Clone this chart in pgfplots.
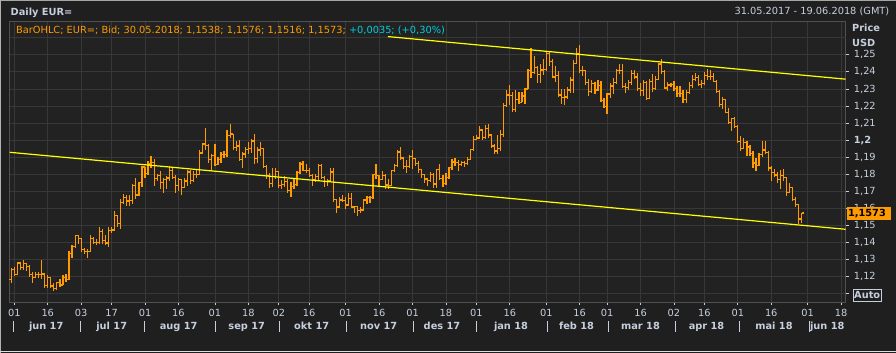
\documentclass[border=0pt]{standalone}
\usepackage{pgfplots}
\pgfplotsset{compat=1.18}
\usepackage{pgfplotstable}
\usepackage{fontspec}
\setmainfont{DejaVu Sans}
\definecolor{panel}{HTML}{1F1F1F}
\definecolor{plotbg}{HTML}{222222}
\definecolor{gridc}{HTML}{383838}
\definecolor{framec}{HTML}{505050}
\definecolor{labc}{HTML}{C5CFDD}
\definecolor{barc}{HTML}{FF9A00}
\definecolor{cyanc}{HTML}{00CFE0}
\definecolor{trendc}{HTML}{FFFF00}

\pgfdeclareplotmark{openTick}{\pgfpathmoveto{\pgfpointorigin}\pgfpathlineto{\pgfpoint{-\pgfplotmarksize}{0pt}}\pgfusepathqstroke}
\pgfdeclareplotmark{closeTick}{\pgfpathmoveto{\pgfpointorigin}\pgfpathlineto{\pgfpoint{\pgfplotmarksize}{0pt}}\pgfusepathqstroke}

\pgfplotstableread{
i o h l c
-1 1.1185 1.1251 1.1165 1.1244
0 1.1244 1.1255 1.1206 1.1214
1 1.1214 1.1285 1.1210 1.1280
2 1.1280 1.1285 1.1242 1.1254
3 1.1254 1.1296 1.1242 1.1278
4 1.1278 1.1283 1.1235 1.1258
5 1.1258 1.1269 1.1196 1.1213
6 1.1213 1.1230 1.1166 1.1196
7 1.1196 1.1230 1.1190 1.1211
8 1.1211 1.1225 1.1191 1.1213
9 1.1213 1.1296 1.1189 1.1216
10 1.1216 1.1218 1.1131 1.1150
11 1.1150 1.1210 1.1134 1.1197
12 1.1197 1.1200 1.1135 1.1146
13 1.1146 1.1165 1.1119 1.1131
14 1.1131 1.1171 1.1125 1.1167
15 1.1167 1.1184 1.1140 1.1152
16 1.1152 1.1211 1.1150 1.1195
17 1.1195 1.1213 1.1170 1.1183
18 1.1183 1.1350 1.1180 1.1336
19 1.1336 1.1387 1.1312 1.1375
20 1.1375 1.1446 1.1370 1.1442
21 1.1442 1.1446 1.1392 1.1426
22 1.1426 1.1428 1.1347 1.1359
23 1.1359 1.1370 1.1335 1.1346
24 1.1346 1.1364 1.1312 1.1350
25 1.1350 1.1445 1.1345 1.1423
26 1.1423 1.1434 1.1391 1.1401
27 1.1401 1.1422 1.1384 1.1400
28 1.1400 1.1490 1.1389 1.1465
29 1.1465 1.1480 1.1390 1.1414
30 1.1414 1.1445 1.1387 1.1397
31 1.1397 1.1490 1.1374 1.1469
32 1.1469 1.1490 1.1454 1.1474
33 1.1474 1.1583 1.1472 1.1557
34 1.1557 1.1563 1.1494 1.1513
35 1.1513 1.1656 1.1478 1.1633
36 1.1633 1.1684 1.1628 1.1666
37 1.1666 1.1678 1.1613 1.1643
38 1.1643 1.1676 1.1612 1.1648
39 1.1648 1.1743 1.1627 1.1733
40 1.1733 1.1777 1.1658 1.1679
41 1.1679 1.1753 1.1673 1.1750
42 1.1750 1.1847 1.1727 1.1843
43 1.1843 1.1845 1.1780 1.1803
44 1.1803 1.1880 1.1795 1.1860
45 1.1860 1.1910 1.1837 1.1870
46 1.1870 1.1890 1.1729 1.1774
47 1.1774 1.1799 1.1762 1.1792
48 1.1792 1.1822 1.1713 1.1754
49 1.1754 1.1777 1.1689 1.1769
50 1.1769 1.1790 1.1711 1.1778
51 1.1778 1.1846 1.1762 1.1822
52 1.1822 1.1834 1.1771 1.1779
53 1.1779 1.1795 1.1688 1.1734
54 1.1734 1.1779 1.1700 1.1770
55 1.1770 1.1773 1.1681 1.1723
56 1.1723 1.1779 1.1719 1.1761
57 1.1761 1.1823 1.1732 1.1814
58 1.1814 1.1826 1.1745 1.1763
59 1.1763 1.1819 1.1753 1.1800
60 1.1800 1.1832 1.1780 1.1798
61 1.1798 1.1940 1.1793 1.1925
62 1.1925 1.1984 1.1923 1.1977
63 1.1977 1.2070 1.1940 1.1967
64 1.1967 1.1980 1.1869 1.1887
65 1.1887 1.1918 1.1822 1.1909
66 1.1909 1.1980 1.1850 1.1857
67 1.1857 1.1904 1.1857 1.1888
68 1.1888 1.1928 1.1865 1.1915
69 1.1915 1.1938 1.1895 1.1918
70 1.1918 1.2060 1.1903 1.2025
71 1.2025 1.2092 1.2014 1.2036
72 1.2036 1.2037 1.1945 1.1955
73 1.1955 1.1995 1.1934 1.1966
74 1.1966 1.2002 1.1880 1.1886
75 1.1886 1.1929 1.1838 1.1919
76 1.1919 1.1962 1.1893 1.1944
77 1.1944 1.1987 1.1921 1.1952
78 1.1952 1.2007 1.1927 1.1995
79 1.1995 1.2035 1.1860 1.1891
80 1.1891 1.1960 1.1868 1.1942
81 1.1942 1.1987 1.1906 1.1949
82 1.1949 1.1952 1.1836 1.1847
83 1.1847 1.1856 1.1771 1.1793
84 1.1793 1.1807 1.1718 1.1746
85 1.1746 1.1834 1.1725 1.1785
86 1.1785 1.1834 1.1770 1.1815
87 1.1815 1.1818 1.1717 1.1733
88 1.1733 1.1766 1.1713 1.1740
89 1.1740 1.1792 1.1723 1.1760
90 1.1760 1.1775 1.1689 1.1706
91 1.1706 1.1752 1.1669 1.1730
92 1.1730 1.1780 1.1715 1.1739
93 1.1739 1.1820 1.1734 1.1812
94 1.1812 1.1870 1.1804 1.1860
95 1.1860 1.1880 1.1818 1.1823
96 1.1823 1.1860 1.1805 1.1823
97 1.1823 1.1836 1.1782 1.1794
98 1.1794 1.1799 1.1730 1.1766
99 1.1766 1.1802 1.1752 1.1787
100 1.1787 1.1861 1.1769 1.1853
101 1.1853 1.1860 1.1770 1.1783
102 1.1783 1.1789 1.1727 1.1757
103 1.1757 1.1773 1.1730 1.1762
104 1.1762 1.1834 1.1752 1.1814
105 1.1814 1.1838 1.1637 1.1654
106 1.1654 1.1655 1.1574 1.1608
107 1.1608 1.1669 1.1601 1.1650
108 1.1650 1.1680 1.1635 1.1646
109 1.1646 1.1669 1.1598 1.1620
110 1.1620 1.1688 1.1614 1.1658
111 1.1658 1.1688 1.1603 1.1608
112 1.1608 1.1617 1.1576 1.1609
113 1.1609 1.1616 1.1554 1.1587
114 1.1587 1.1608 1.1575 1.1591
115 1.1591 1.1658 1.1584 1.1650
116 1.1650 1.1675 1.1627 1.1664
117 1.1664 1.1670 1.1630 1.1663
118 1.1663 1.1800 1.1655 1.1797
119 1.1797 1.1862 1.1773 1.1793
120 1.1793 1.1797 1.1727 1.1771
121 1.1771 1.1822 1.1767 1.1795
122 1.1795 1.1803 1.1715 1.1737
123 1.1737 1.1770 1.1712 1.1735
124 1.1735 1.1828 1.1730 1.1822
125 1.1822 1.1859 1.1812 1.1852
126 1.1852 1.1940 1.1844 1.1931
127 1.1931 1.1960 1.1886 1.1896
128 1.1896 1.1902 1.1830 1.1844
129 1.1844 1.1881 1.1810 1.1845
130 1.1845 1.1915 1.1835 1.1904
131 1.1904 1.1940 1.1830 1.1893
132 1.1893 1.1896 1.1846 1.1865
133 1.1865 1.1880 1.1810 1.1826
134 1.1826 1.1833 1.1780 1.1797
135 1.1797 1.1804 1.1751 1.1772
136 1.1772 1.1780 1.1729 1.1765
137 1.1765 1.1813 1.1755 1.1800
138 1.1800 1.1805 1.1717 1.1743
139 1.1743 1.1830 1.1718 1.1828
140 1.1828 1.1863 1.1765 1.1775
141 1.1775 1.1796 1.1727 1.1748
142 1.1748 1.1805 1.1740 1.1783
143 1.1783 1.1845 1.1770 1.1840
144 1.1840 1.1888 1.1823 1.1872
145 1.1872 1.1896 1.1846 1.1871
146 1.1871 1.1881 1.1819 1.1859
147 1.1859 1.1875 1.1850 1.1868
148 1.1868 1.1875 1.1842 1.1863
149 1.1863 1.1900 1.1855 1.1889
150 1.1889 1.1946 1.1886 1.1943
151 1.1943 1.2023 1.1937 1.2005
152 1.2005 1.2029 1.1998 1.2013
153 1.2013 1.2081 1.2005 1.2059
154 1.2059 1.2066 1.1999 1.2014
155 1.2014 1.2089 1.2006 1.2068
156 1.2068 1.2093 1.2013 1.2030
157 1.2030 1.2036 1.1953 1.1966
158 1.1966 1.1978 1.1916 1.1937
159 1.1937 1.2028 1.1917 1.1951
160 1.1951 1.2058 1.1939 1.2034
161 1.2034 1.2219 1.2021 1.2201
162 1.2201 1.2296 1.2197 1.2265
163 1.2265 1.2323 1.2208 1.2263
164 1.2263 1.2280 1.2164 1.2178
165 1.2178 1.2296 1.2166 1.2237
166 1.2237 1.2284 1.2211 1.2221
167 1.2221 1.2282 1.2221 1.2259
168 1.2259 1.2308 1.2212 1.2300
169 1.2300 1.2414 1.2297 1.2408
170 1.2408 1.2537 1.2366 1.2396
171 1.2396 1.2494 1.2390 1.2425
172 1.2425 1.2437 1.2336 1.2383
173 1.2383 1.2449 1.2337 1.2411
174 1.2411 1.2478 1.2381 1.2413
175 1.2413 1.2523 1.2407 1.2508
176 1.2508 1.2518 1.2433 1.2461
177 1.2461 1.2476 1.2367 1.2370
178 1.2370 1.2436 1.2340 1.2378
179 1.2378 1.2404 1.2255 1.2265
180 1.2265 1.2298 1.2209 1.2250
181 1.2250 1.2297 1.2206 1.2253
182 1.2253 1.2311 1.2243 1.2294
183 1.2294 1.2371 1.2278 1.2352
184 1.2352 1.2470 1.2275 1.2450
185 1.2450 1.2537 1.2446 1.2508
186 1.2508 1.2556 1.2396 1.2408
187 1.2408 1.2435 1.2373 1.2406
188 1.2406 1.2411 1.2322 1.2337
189 1.2337 1.2360 1.2260 1.2284
190 1.2284 1.2353 1.2278 1.2330
191 1.2330 1.2343 1.2272 1.2294
192 1.2294 1.2354 1.2289 1.2319
193 1.2319 1.2346 1.2227 1.2232
194 1.2232 1.2245 1.2186 1.2195
195 1.2195 1.2274 1.2155 1.2270
196 1.2270 1.2337 1.2245 1.2317
197 1.2317 1.2365 1.2269 1.2336
198 1.2336 1.2415 1.2329 1.2408
199 1.2408 1.2446 1.2385 1.2409
200 1.2409 1.2446 1.2310 1.2313
201 1.2313 1.2335 1.2274 1.2307
202 1.2307 1.2350 1.2296 1.2336
203 1.2336 1.2409 1.2321 1.2390
204 1.2390 1.2412 1.2360 1.2370
205 1.2370 1.2393 1.2290 1.2303
206 1.2303 1.2336 1.2260 1.2290
207 1.2290 1.2355 1.2261 1.2338
208 1.2338 1.2347 1.2239 1.2243
209 1.2243 1.2356 1.2240 1.2342
210 1.2342 1.2388 1.2282 1.2301
211 1.2301 1.2375 1.2294 1.2353
212 1.2353 1.2454 1.2352 1.2446
213 1.2446 1.2476 1.2390 1.2404
214 1.2404 1.2410 1.2297 1.2305
215 1.2305 1.2340 1.2286 1.2323
216 1.2323 1.2335 1.2310 1.2324
217 1.2324 1.2347 1.2290 1.2302
218 1.2302 1.2320 1.2255 1.2271
219 1.2271 1.2315 1.2255 1.2275
220 1.2275 1.2292 1.2218 1.2240
221 1.2240 1.2293 1.2215 1.2280
222 1.2280 1.2340 1.2269 1.2319
223 1.2319 1.2379 1.2305 1.2357
224 1.2357 1.2396 1.2346 1.2368
225 1.2368 1.2381 1.2315 1.2327
226 1.2327 1.2351 1.2305 1.2330
227 1.2330 1.2397 1.2326 1.2381
228 1.2381 1.2414 1.2353 1.2373
229 1.2373 1.2413 1.2352 1.2375
230 1.2375 1.2396 1.2339 1.2345
231 1.2345 1.2353 1.2275 1.2285
232 1.2285 1.2294 1.2196 1.2211
233 1.2211 1.2254 1.2184 1.2236
234 1.2236 1.2239 1.2162 1.2164
235 1.2164 1.2191 1.2096 1.2103
236 1.2103 1.2132 1.2055 1.2129
237 1.2129 1.2137 1.2072 1.2078
238 1.2078 1.2091 1.1982 1.1991
239 1.1991 1.2022 1.1938 1.1952
240 1.1952 1.2010 1.1946 1.1988
241 1.1988 1.1996 1.1910 1.1960
242 1.1960 1.1969 1.1910 1.1923
243 1.1923 1.1939 1.1838 1.1866
244 1.1866 1.1895 1.1822 1.1850
245 1.1850 1.1926 1.1847 1.1917
246 1.1917 1.1997 1.1904 1.1942
247 1.1942 1.1995 1.1916 1.1926
248 1.1926 1.1937 1.1820 1.1837
249 1.1837 1.1851 1.1763 1.1809
250 1.1809 1.1829 1.1786 1.1796
251 1.1796 1.1811 1.1750 1.1768
252 1.1768 1.1828 1.1716 1.1793
253 1.1793 1.1829 1.1763 1.1780
254 1.1780 1.1787 1.1675 1.1695
255 1.1695 1.1750 1.1688 1.1721
256 1.1721 1.1726 1.1645 1.1653
257 1.1653 1.1665 1.1610 1.1624
258 1.1624 1.1627 1.1510 1.1538
259 1.1538 1.1576 1.1516 1.1573
}\ohlc

\begin{document}
\begin{tikzpicture}[x=1pt,y=1pt,font=\fontsize{9.8}{12}\selectfont]
\fill[panel] (0,0) rectangle (896,353);
\draw[color=gray!70, line width=1pt] (0,352.5) -- (896,352.5);
\draw[color=gray!60, line width=1pt] (0.5,0) -- (0.5,353);
\draw[color=gray!25, line width=1.2pt] (0,1.2) -- (896,1.2);

\begin{axis}[
  at={(9.5pt,51pt)}, anchor=south west,
  width=836.2pt, height=280.5pt, scale only axis,
  xmin=-1.58, xmax=273.5, ymin=1.10519, ymax=1.26951,
  axis background/.style={fill=plotbg},
  axis line style={framec, line width=0.8pt},
  grid=major, grid style={gridc, line width=0.8pt},
  xtick={0,11,22,32,43,54,66,77,87,97,109,120,131,142,152,163,175,186,195,206,217,227,238,249,261,272},
  xticklabels={01,16,03,17,01,16,01,18,02,16,01,16,01,18,01,16,01,16,01,16,02,16,01,16,01,18},
  ytick={1.11,1.12,1.13,1.14,1.15,1.16,1.17,1.18,1.19,1.2,1.21,1.22,1.23,1.24,1.25},
  yticklabels={{},{1,12},{1,13},{1,14},{1,15},{1,16},{1,17},{1,18},{1,19},{\textbf{1,2}},{1,21},{1,22},{1,23},{1,24},{1,25}},
  extra y ticks={1.26}, extra y tick labels={},
  extra y tick style={major tick length=0pt, grid=major},
  xtick pos=bottom, ytick pos=right, yticklabel pos=right,
  tick align=outside, major tick length=3pt,
  tick style={labc, line width=0.8pt},
  ticklabel style={font=\fontsize{9.8}{12}\selectfont, text=labc, inner sep=0pt},
  xticklabel style={anchor=base, yshift=-11.7pt},
  yticklabel style={anchor=west, xshift=5pt},
  clip mode=individual,
  scaled ticks=false,
]
\addplot[barc, only marks, mark=closeTick, mark size=2pt, line width=1.2pt,
  mark options={solid, line width=1.2pt},
  error bars/.cd, y dir=both, y explicit, error mark=none,
  error bar style={line width=1.2pt, barc}]
  table[x=i, y=c, y error plus expr=\thisrow{h}-\thisrow{c}, y error minus expr=\thisrow{c}-\thisrow{l}] {\ohlc};
\addplot[barc, only marks, mark=openTick, mark size=2pt, line width=1.2pt,
  mark options={solid, line width=1.2pt}]
  table[x=i, y=o] {\ohlc};
\addplot[trendc, line width=1.2pt] coordinates {(-1.58,1.19290) (273.5,1.14778)};
\addplot[trendc, line width=1.2pt] coordinates {(122.9,1.26067) (273.5,1.23573)};
\end{axis}

% header
\node[anchor=base west, inner sep=0pt, text=labc] at (10.5,337.5) {\bfseries Daily EUR=};
\node[anchor=base east, inner sep=0pt, text=labc] at (889.5,338) {31.05.2017 - 19.06.2018 (GMT)};
% legend line
\node[anchor=base west, inner sep=0pt] at (16,319.7) {\color{barc}BarOHLC; EUR=; Bid; 30.05.2018; 1,1538; 1,1576; 1,1516; 1,1573; \color{cyanc}+0,0035; (+0,30\%)};
% price axis title
\node[anchor=base west, inner sep=0pt, text=labc] at (852,321.3) {\bfseries Price};
\node[anchor=base west, inner sep=0pt, text=labc] at (852,306.3) {\bfseries USD};
% last price box
\fill[barc] (846.7,133) rectangle (891,146.3);
\node[anchor=west, inner sep=0pt, text=black] at (847.8,139.6) {\bfseries 1,1573};
% auto box
\draw[labc, line width=0.8pt] (853.3,52) rectangle (881,63.7);
\node[anchor=center, inner sep=0pt, text=labc] at (867.2,57.6) {\bfseries Auto};
% month separators and labels
\foreach \sx in {13.3,80.7,144.3,215.7,279.3,346.7,413.3,476.7,547.3,608.7,675.7,739.3,809.3}
  \draw[labc, line width=0.8pt] (\sx,21.3) -- (\sx,32.3);
\foreach \mx/\mt in {46.2/jun 17,111.7/jul 17,178.7/aug 17,246.7/sep 17,311.7/okt 17,378.7/nov 17,442/des 17,511/jan 18,576.5/feb 18,640.5/mar 18,706.5/apr 18,774/mai 18,827.3/jun 18}
  \node[anchor=base, inner sep=0pt, text=labc] at (\mx,23.7) {\bfseries \mt};
\pgfresetboundingbox
\useasboundingbox (0,0) rectangle (896,353);
\end{tikzpicture}
\end{document}
